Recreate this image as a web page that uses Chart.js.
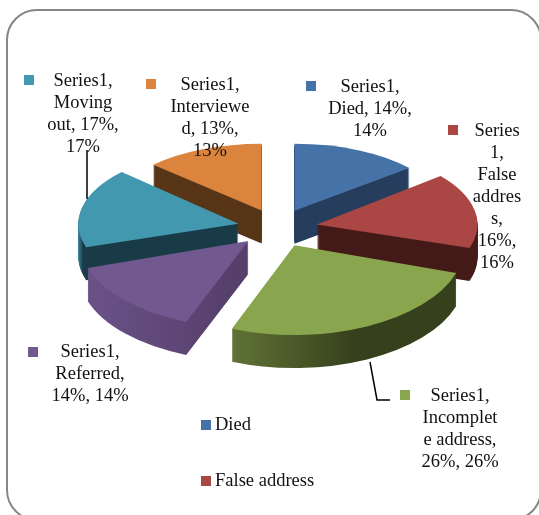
<!DOCTYPE html>
<html>
<head>
<meta charset="utf-8">
<style>
  html, body { margin: 0; padding: 0; background: #fff; overflow: hidden; }
  canvas { display: block; }
</style>
<script src="https://cdn.jsdelivr.net/npm/chart.js@4"></script>
</head>
<body>
<canvas id="pie-chart" width="539" height="515"></canvas>
<script>
const categories = ['Died', 'False address', 'Incomplete address', 'Referred', 'Moving out', 'Interviewed'];
const percentages = [14, 16, 26, 14, 17, 13];
const sliceColors = ['#4572A7', '#AA4643', '#89A54E', '#71588F', '#4198AF', '#DB843D'];
const sideLight = ['#263D5E', '#431A18', '#5F7335', '#6A5288', '#3A8096', '#593517'];
const sideDark = ['#263D5E', '#431A18', '#36401C', '#563F6B', '#193A47', '#593517'];
const sideStop = [1, 1, 0.55, 0.9, 0.03, 1];

const labelLines = [
    ['Series1,', 'Died, 14%,', '14%'],
    ['Series', '1,', 'False', 'addres', 's,', '16%,', '16%'],
    ['Series1,', 'Incomplet', 'e address,', '26%, 26%'],
    ['Series1,', 'Referred,', '14%, 14%'],
    ['Series1,', 'Moving', 'out, 17%,', '17%'],
    ['Series1,', 'Interviewe', 'd, 13%,', '13%']
];
const legendNames = ['Died', 'False address'];

// label layout, same order as categories: text centre x, first line y, swatch x, swatch y
const labelBoxes = [
    [370, 87, 306, 81],
    [497, 131, 448, 125],
    [460, 396, 400, 390],
    [90, 352, 28, 347],
    [83, 81, 24, 75],
    [210, 85, 146, 79]
];
const legendRows = [[201, 425], [201, 481]];

const FONT = '18.5px "Liberation Serif", serif';
const explode = 40;
const explodeSquash = 0.475;
const squash = 0.49;
const depth = 33;

const pie3d = {
    id: 'pie3d',
    beforeDatasetsDraw(chart) {
        const ctx = chart.ctx;
        const arcs = chart.getDatasetMeta(0).data.map((arc, i) => {
            const mid = (arc.startAngle + arc.endAngle) / 2;
            return { arc, i, mid, dir: Math.sin(mid) };
        });
        // back slices first so the front ones cover them
        arcs.sort((a, b) => a.dir - b.dir);

        arcs.forEach(({ arc, i, mid, dir }) => {
            const sx = 1 + (dir < 0 ? 0.085 : 0.06) * dir + 0.02 * Math.abs(Math.cos(mid));
            const sy = squash * (1 + 0.16 * dir);
            const place = (drop) => {
                ctx.setTransform(1, 0, 0, 1, 0, 0);
                ctx.translate(arc.x + explode * Math.cos(mid), arc.y + explodeSquash * explode * dir + drop);
                ctx.scale(sx, sy);
                ctx.translate(-arc.x, -arc.y);
            };

            const xs = [arc.startAngle, arc.endAngle].map(a => Math.cos(a) * arc.outerRadius);
            if (arc.startAngle < Math.PI && arc.endAngle > Math.PI) xs.push(-arc.outerRadius);
            const left = arc.x + Math.min(0, ...xs);
            const right = arc.x + Math.max(0, ...xs);
            const grad = ctx.createLinearGradient(left, 0, right, 0);
            grad.addColorStop(0, sideLight[i]);
            grad.addColorStop(sideStop[i], sideDark[i]);
            grad.addColorStop(1, sideDark[i]);

            const topOptions = arc.options;
            arc.options = Object.assign({}, topOptions, { backgroundColor: grad });
            ctx.save();
            for (let d = depth; d > 0; d--) {
                place(d);
                arc.draw(ctx);
            }
            arc.options = topOptions;
            place(0);
            arc.draw(ctx);
            ctx.restore();
        });
        ctx.setTransform(1, 0, 0, 1, 0, 0);
        return false;
    },
    afterDraw(chart) {
        const ctx = chart.ctx;
        ctx.save();

        ctx.strokeStyle = '#868686';
        ctx.lineWidth = 2;
        ctx.beginPath();
        ctx.roundRect(7, 10, 534, 510, 30);
        ctx.stroke();

        // leader lines
        ctx.strokeStyle = '#000';
        ctx.lineWidth = 1.5;
        ctx.beginPath();
        ctx.moveTo(87, 150);
        ctx.lineTo(87, 199);
        ctx.moveTo(370, 362);
        ctx.lineTo(377, 400);
        ctx.lineTo(390, 400);
        ctx.stroke();

        ctx.font = FONT;
        ctx.textBaseline = 'middle';
        ctx.textAlign = 'center';
        labelLines.forEach((lines, i) => {
            const [tx, ty, bx, by] = labelBoxes[i];
            ctx.fillStyle = sliceColors[i];
            ctx.fillRect(bx, by, 10, 10);
            ctx.fillStyle = '#111';
            lines.forEach((line, n) => ctx.fillText(line, tx, ty + n * 22));
        });

        ctx.textAlign = 'left';
        legendNames.forEach((name, i) => {
            const [x, y] = legendRows[i];
            ctx.fillStyle = sliceColors[categories.indexOf(name)];
            ctx.fillRect(x, y - 5, 10, 10);
            ctx.fillStyle = '#111';
            ctx.fillText(name, x + 14, y);
        });
        ctx.restore();
    }
};

new Chart('pie-chart', {
    type: 'pie',
    data: {
        labels: categories,
        datasets: [{
            data: percentages,
            backgroundColor: sliceColors,
            borderWidth: 0,
            radius: 160
        }]
    },
    options: {
        responsive: false,
        animation: false,
        layout: { padding: { left: 16, bottom: 59 } },
        plugins: {
            legend: { display: false },
            tooltip: { enabled: false }
        }
    },
    plugins: [pie3d]
});
</script>
</body>
</html>
